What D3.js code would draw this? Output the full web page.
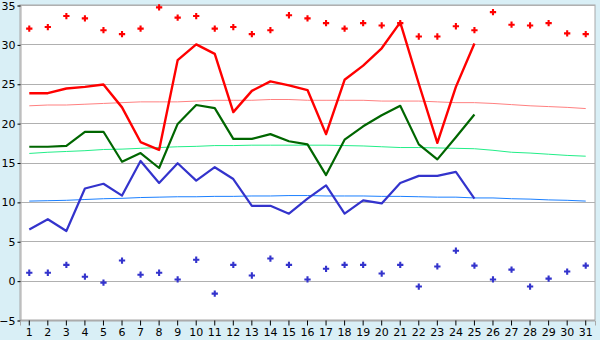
<!DOCTYPE html>
<html>
<head>
<meta charset="utf-8">
<script src="https://cdn.jsdelivr.net/npm/d3@7"></script>
<style>
  body { margin: 0; background: #d9eff6; }
  svg { display: block; font-family: "DejaVu Sans", sans-serif; }
</style>
</head>
<body>
<div id="chart"></div>
<script>
// days of the month on the x axis
let days = d3.range(1, 32);

// daily observed max / mean / min (first 25 days)
let maxTemp = [23.8, 23.8, 24.4, 24.6, 24.9, 22.0, 17.6, 16.6, 28.0, 30.0,
               28.8, 21.4, 24.1, 25.3, 24.8, 24.2, 18.6, 25.5, 27.3, 29.5,
               32.8, 25.0, 17.5, 24.6, 30.1];
let meanTemp = [17.0, 17.0, 17.1, 18.9, 18.9, 15.1, 16.2, 14.3, 19.9, 22.3,
                21.9, 18.0, 18.0, 18.6, 17.7, 17.3, 13.4, 17.9, 19.6, 21.0,
                22.2, 17.3, 15.4, 18.2, 21.1];
let minTemp = [6.5, 7.8, 6.3, 11.7, 12.3, 10.8, 15.2, 12.4, 14.9, 12.7,
               14.4, 12.9, 9.5, 9.5, 8.5, 10.4, 12.1, 8.5, 10.2, 9.8,
               12.4, 13.3, 13.3, 13.8, 10.4];

// long-term normals (all 31 days)
let normMax = [22.2, 22.3, 22.3, 22.4, 22.5, 22.6, 22.7, 22.7, 22.7, 22.8,
               22.9, 22.9, 22.9, 23.0, 23.0, 22.9, 22.9, 22.9, 22.9, 22.8,
               22.8, 22.8, 22.7, 22.6, 22.6, 22.5, 22.35, 22.2, 22.1, 22.0, 21.85];
let normMean = [16.15, 16.3, 16.4, 16.5, 16.65, 16.7, 16.8, 16.9, 17.0, 17.05,
                17.15, 17.15, 17.2, 17.2, 17.2, 17.2, 17.2, 17.15, 17.1, 17.0,
                16.9, 16.9, 16.85, 16.8, 16.75, 16.55, 16.3, 16.2, 16.05, 15.9, 15.8];
let normMin = [10.1, 10.15, 10.2, 10.3, 10.4, 10.45, 10.55, 10.6, 10.65, 10.65,
               10.7, 10.7, 10.75, 10.75, 10.8, 10.8, 10.75, 10.75, 10.75, 10.7,
               10.7, 10.65, 10.6, 10.6, 10.5, 10.5, 10.4, 10.35, 10.25, 10.2, 10.1];

// record highs and lows per day
let recordHigh = [32.0, 32.2, 33.6, 33.3, 31.8, 31.3, 32.0, 34.7, 33.4, 33.6,
                  32.0, 32.2, 31.3, 31.8, 33.7, 33.3, 32.7, 32.0, 32.7, 32.4,
                  32.7, 31.0, 31.0, 32.3, 31.8, 34.1, 32.5, 32.4, 32.7, 31.4, 31.3];
let recordLow = [1.0, 1.0, 2.0, 0.5, -0.25, 2.55, 0.75, 1.0, 0.15, 2.65,
                 -1.65, 2.0, 0.65, 2.8, 2.0, 0.15, 1.5, 2.0, 2.0, 0.9,
                 2.0, -0.75, 1.8, 3.8, 1.9, 0.15, 1.4, -0.75, 0.25, 1.15, 1.9];

let yTicks = [-5, 0, 5, 10, 15, 20, 25, 30, 35];

let width = 600;
let height = 340;
let margin = {left: 20, right: 5, top: 5, bottom: 20};

let svg = d3.select('#chart')
		.append('svg')
		.attr('width', width)
		.attr('height', height);

let xScale = d3.scaleBand()
		.domain(days)
		.range([margin.left, width - margin.right]);

let yScale = d3.scaleLinear()
		.domain([-5, 35])
		.range([height - margin.bottom, margin.top]);

let cx = d => xScale(d) + xScale.bandwidth() / 2;

// white plot area
svg.append('rect')
		.attr('x', margin.left)
		.attr('y', margin.top)
		.attr('width', width - margin.left - margin.right)
		.attr('height', height - margin.top - margin.bottom)
		.attr('fill', '#ffffff')
		.attr('stroke', '#a8a8a8');

// horizontal grid lines
svg.append('g').selectAll('line')
		.data(yTicks)
		.enter()
		.append('line')
		.attr('x1', margin.left)
		.attr('x2', width - margin.right)
		.attr('y1', d => Math.round(yScale(d)) + 0.5)
		.attr('y2', d => Math.round(yScale(d)) + 0.5)
		.attr('stroke', '#b0b0b0');

// y axis
let yAxis = svg.append('g')
		.attr('transform', 'translate(' + (margin.left + 0.5) + ',0.5)')
		.call(d3.axisLeft(yScale).tickValues(yTicks).tickSize(3).tickPadding(2)
				.tickFormat(d => d < 0 ? '\u2212' + Math.abs(d) : d));

// x axis
let xAxis = svg.append('g')
		.attr('transform', 'translate(0,' + (height - margin.bottom + 0.5) + ')')
		.call(d3.axisBottom(xScale).tickSize(5).tickPadding(3));

[yAxis, xAxis].forEach(function(ax) {
	ax.select('.domain').attr('stroke', '#a8a8a8');
	ax.selectAll('.tick line').attr('stroke', '#000');
	ax.selectAll('text').attr('font-size', 11).attr('fill', '#000')
			.attr('font-family', '"DejaVu Sans", sans-serif');
});

function drawLine(values, color, w) {
	let line = d3.line()
			.x((v, i) => cx(days[i]))
			.y(v => yScale(v));
	svg.append('path')
			.attr('d', line(values))
			.attr('fill', 'none')
			.attr('stroke', color)
			.attr('stroke-width', w)
			.attr('stroke-linejoin', 'round');
}

// normals
drawLine(normMax, '#ff8080', 1);
drawLine(normMean, '#22ee88', 1);
drawLine(normMin, '#1a7fff', 1);

// observations
drawLine(minTemp, '#3333cc', 2.2);
drawLine(meanTemp, '#006600', 2.2);
drawLine(maxTemp, '#ff0000', 2.4);

function drawPoints(values, color) {
	svg.append('g').selectAll('path')
			.data(values)
			.enter()
			.append('path')
			.attr('transform', (v, i) => 'translate(' + cx(days[i]) + ',' + yScale(v) + ')')
			.attr('d', d3.symbol().type(d3.symbolCross).size(22))
			.attr('fill', color);
}

drawPoints(recordHigh, '#ff0000');
drawPoints(recordLow, '#3333cc');
</script>
</body>
</html>
